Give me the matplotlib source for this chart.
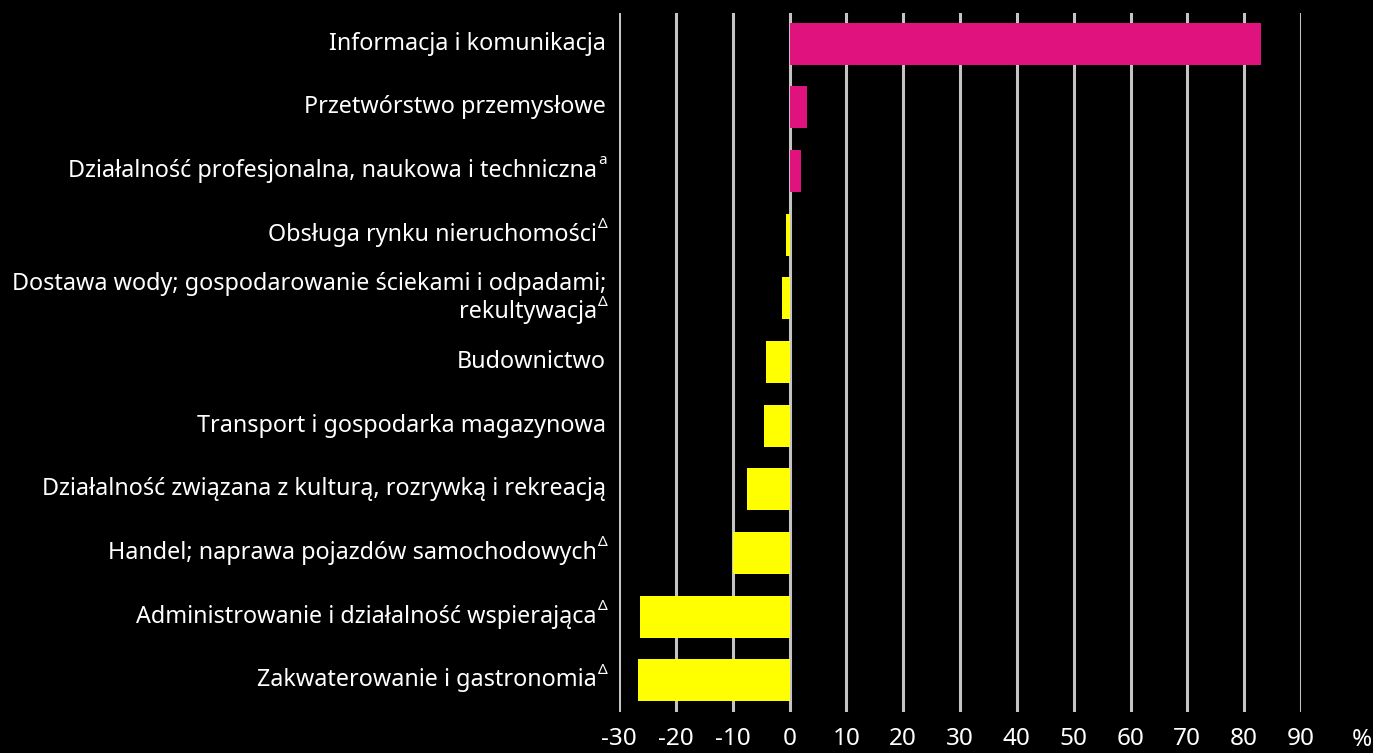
import matplotlib
matplotlib.use("Agg")
import matplotlib.pyplot as plt

categories = [
    "Informacja i komunikacja",
    "Przetwórstwo przemysłowe",
    "Działalność profesjonalna, naukowa i techniczna",
    "Obsługa rynku nieruchomości",
    "Dostawa wody; gospodarowanie ściekami i odpadami;\nrekultywacja",
    "Budownictwo",
    "Transport i gospodarka magazynowa",
    "Działalność związana z kulturą, rozrywką i rekreacją",
    "Handel; naprawa pojazdów samochodowych",
    "Administrowanie i działalność wspierająca",
    "Zakwaterowanie i gastronomia",
]
marks = ["", "", "a", "Δ", "Δ", "", "", "", "Δ", "Δ", "Δ"]
values = [83.0, 3.0, 2.0, -0.6, -1.4, -4.1, -4.4, -7.4, -10.0, -26.3, -26.7]
xticks = list(range(-30, 91, 10))

PINK = "#e0137e"
YELLOW = "#ffff00"
FONT = "Noto Sans"

fig = plt.figure(figsize=(13.73, 7.53), dpi=100, facecolor="black")
ax = fig.add_axes([619 / 1373, 1 - 712 / 753, (1301 - 619) / 1373, (712 - 13) / 753])
ax.set_facecolor("black")

for t in xticks:
    ax.axvline(t, color="#c4c4c4", lw=2.2, zorder=1)

ypos = list(range(len(categories)))
colors = [PINK if v > 0 else YELLOW for v in values]
ax.barh(ypos, values, height=0.66, color=colors, zorder=2)

ax.set_xlim(-30, 90)
ax.set_ylim(10.5, -0.48)
for s in ax.spines.values():
    s.set_visible(False)
ax.set_yticks([])
ax.set_xticks(xticks)
ax.set_xticklabels([str(t) for t in xticks], color="white", fontsize=17.5, family=FONT)
ax.tick_params(axis="x", length=0, pad=11)

for y, lab, m in zip(ypos, categories, marks):
    lines = lab.split("\n")
    n = len(lines)
    for i, line in enumerate(lines):
        dy = (n - 1) * 14 - i * 28
        last = i == n - 1
        xoff = -22 if (m and last) else -13
        ax.annotate(line, (0, y), xycoords=("axes fraction", "data"),
                    xytext=(xoff, dy), textcoords="offset pixels",
                    ha="right", va="center", color="white", fontsize=16.8, family=FONT)
        if m and last:
            ax.annotate(m, (0, y), xycoords=("axes fraction", "data"),
                        xytext=(-21, dy + 10), textcoords="offset pixels",
                        ha="left", va="center", color="white", fontsize=11, family=FONT)

fig.text(1362 / 1373, 1 - 740 / 753, "%", color="white", fontsize=17.5, family=FONT,
         ha="center", va="center")

fig.savefig("out.png", dpi=100, facecolor="black")
